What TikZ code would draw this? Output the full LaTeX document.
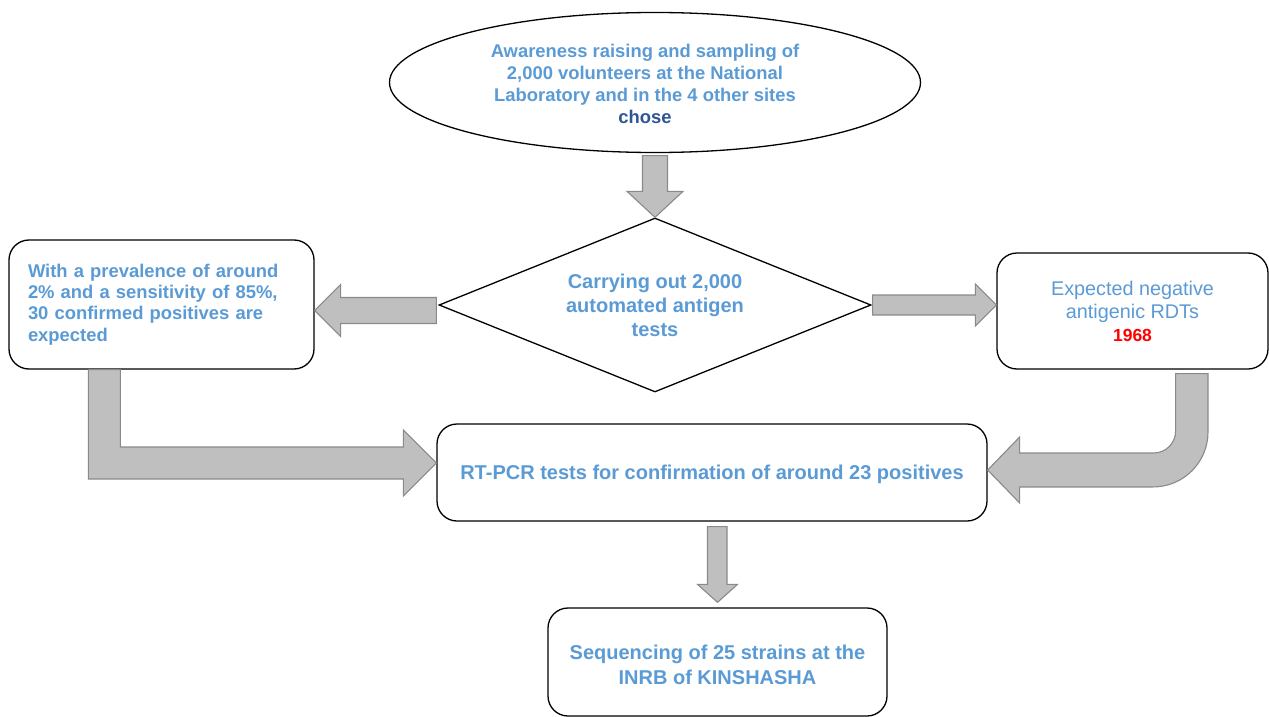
\documentclass[tikz,border=0pt]{standalone}
\usepackage{fontspec}
\setmainfont{Liberation Sans}
\usepackage{xcolor}
\definecolor{textblue}{HTML}{5B9BD5}
\definecolor{deepblue}{HTML}{2F5597}
\definecolor{alertred}{HTML}{FF0000}
\definecolor{arrowfill}{HTML}{BFBFBF}
\definecolor{arrowline}{HTML}{8A8A8A}
\usepackage{tikz}
\usetikzlibrary{positioning,calc,shapes.geometric}

\tikzset{
  stepbox/.style={draw=black, line width=1.3pt, rounded corners=20pt, fill=white,
    text=textblue, align=center, inner sep=0pt,
    font=\bfseries\fontsize{20}{24}\selectfont},
  fatarrow/.style={fill=arrowfill, draw=arrowline, line width=1.1pt, line join=miter}
}

\begin{document}
\begin{tikzpicture}[x=1pt, y=-1pt]
    \useasboundingbox (0,0) rectangle (1269,717);
    % steps
    \node[ellipse, draw=black, line width=1.3pt, fill=white, inner sep=0pt,
          minimum width=531pt, minimum height=140pt] (aware) at (655,82.5) {};
    \node[text=textblue, align=center, inner sep=0pt,
          font=\bfseries\fontsize{18.4}{21.9}\selectfont] (awaretext) at ($(aware)+(-10,1.5)$)
      {Awareness raising and sampling of\\2,000 volunteers at the National\\
       Laboratory and in the 4 other sites\\{\color{deepblue}chose}};
    \node[diamond, draw=black, line width=1.3pt, fill=white, inner sep=0pt, aspect=2.48,
          minimum width=432pt, minimum height=174pt, text=textblue, align=center,
          font=\bfseries\fontsize{20}{24}\selectfont] (tests) at (655,305)
      {Carrying out 2,000\\automated antigen\\tests};
    \node[stepbox, align=left, text width=267pt, inner xsep=19pt, minimum height=129pt,
          font=\bfseries\fontsize{18.4}{21.3}\selectfont] (prev) at (161.5,304.5)
      {With a prevalence of around\\2\% and a sensitivity of 85\%,\\
       30 confirmed positives are\\expected};
    \node[stepbox, minimum width=271pt, minimum height=116pt,
          font=\fontsize{19.8}{23}\selectfont] (neg) at (1132.5,311)
      {Expected negative\\antigenic RDTs\\
       {\bfseries\fontsize{17.5}{23}\selectfont\color{alertred}1968}};
    \node[stepbox, minimum width=550pt, minimum height=97pt, text depth=0pt] (pcr) at (712,472.5)
      {RT-PCR tests for confirmation of around 23 positives};
    \node[stepbox, minimum width=339pt, minimum height=108pt,
          font=\bfseries\fontsize{20}{25}\selectfont] (seq) at (717.5,662)
      {\rule{0pt}{20pt}Sequencing of 25 strains at the\\INRB of KINSHASHA};
    % arrow tips
    \coordinate (ltip) at ($(prev.east)+(0,6)$);
    \coordinate (rtip) at (neg.west |- tests.east);
    \coordinate (etip) at ($(pcr.west)+(0,-9.5)$);
    \coordinate (ctip) at ($(pcr.east)+(0,-2.5)$);
    \coordinate (stip) at ($(seq.north)+(0,-5)$);
    % block arrows
    \filldraw[fatarrow] (tests.north) -- ++(-28,-26) -- ++(15.5,0)
      |- ($(aware.south)+(12.5,2.5)$) |- ($(tests.north)+(28,-26)$) -- cycle;
    \filldraw[fatarrow] (ltip) -- ++(26,-26) -- ++(0,13)
      -| ($(tests.west)+(-2,18.5)$) -| ($(ltip)+(26,26)$) -- cycle;
    \filldraw[fatarrow] (rtip) -- ++(-21,-21) -- ++(0,11)
      -| ($(tests.east)+(1,10)$) -| ($(rtip)+(-21,21)$) -- cycle;
    \filldraw[fatarrow] (etip) -- ++(-33,-33) -- ++(0,17)
      -| ($(prev.south west)+(112,0)$) -- ($(prev.south west)+(80,0)$)
      |- ($(etip)+(-33,16)$) -- ++(0,17) -- cycle;
    \filldraw[fatarrow] (ctip) -- ++(32,-33) -- ++(0,16) -- ++(134,0)
      arc[start angle=-90, end angle=0, radius=22pt]
      |- ($(neg.south)+(75.5,4)$) -- ++(0,58.3)
      arc[start angle=0, end angle=-90, radius=55pt]
      -- ($(ctip)+(32,17)$) -- ++(0,16) -- cycle;
    \filldraw[fatarrow] (stip) -- ++(-20,-18) -- ++(10,0)
      |- ($(pcr.south -| seq.north)+(9.5,5)$) |- ($(stip)+(20,-18)$) -- cycle;
\end{tikzpicture}
\end{document}
